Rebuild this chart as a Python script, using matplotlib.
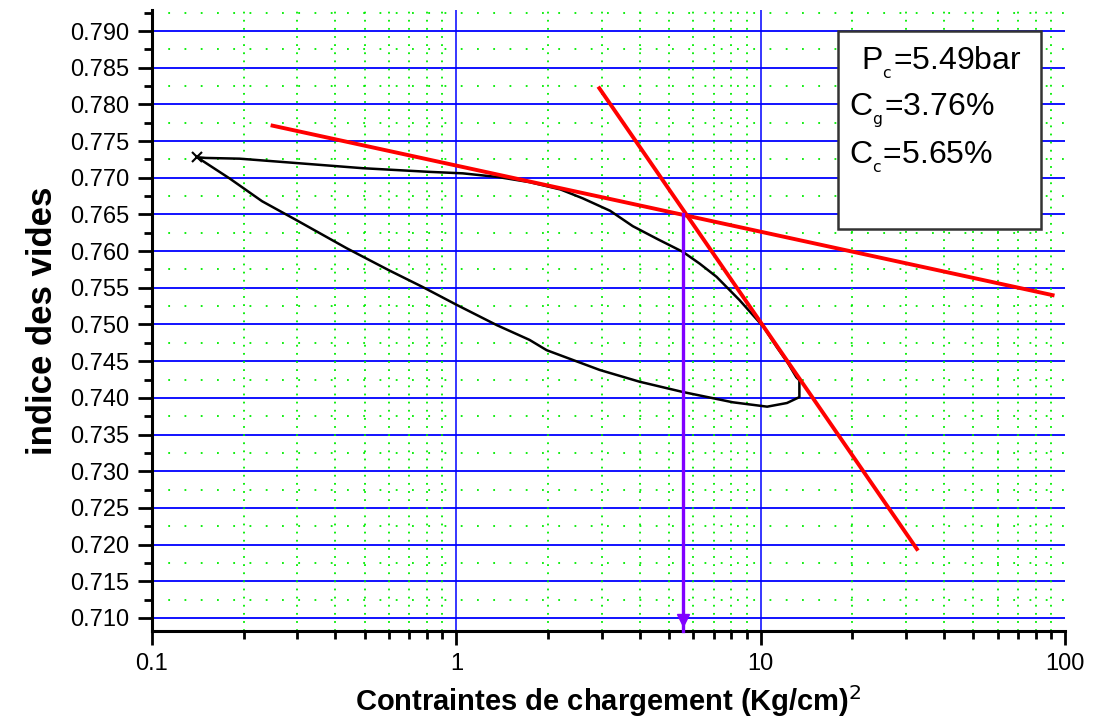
import matplotlib
matplotlib.use('Agg')
import matplotlib.pyplot as plt
import numpy as np
from matplotlib.ticker import FixedLocator, NullFormatter

plt.rcParams['font.family'] = ['Liberation Sans', 'DejaVu Sans']

# oedometer curve (loading then unloading)
stress = [0.1406, 0.15, 0.194, 0.299, 0.493, 0.818, 1.05, 1.37, 1.74, 2.20, 2.60, 3.20,
          3.80, 4.60, 5.55, 6.30, 7.16, 8.53, 10.2, 11.3, 12.3, 13.1, 13.4, 13.4, 12.2,
          10.5, 8.09, 5.55, 4.00, 2.96, 1.98, 1.74, 1.36, 1.0, 0.776, 0.600, 0.436,
          0.299, 0.230, 0.180, 0.1406]
void_ratio = [0.7728, 0.7727, 0.7726, 0.7720, 0.7713, 0.7708, 0.7706, 0.7701, 0.7694,
              0.7684, 0.7672, 0.7655, 0.7634, 0.7616, 0.7599, 0.7583, 0.7565, 0.7533,
              0.7497, 0.7469, 0.7447, 0.7428, 0.7424, 0.7401, 0.7393, 0.7388, 0.7394,
              0.7408, 0.7422, 0.7438, 0.7465, 0.7479, 0.7499, 0.7527, 0.7551, 0.7574,
              0.7604, 0.7642, 0.7668, 0.7699, 0.7728]

# tangent lines (Casagrande construction)
tan1_x = [0.249, 91.0]
tan1_y = [0.7771, 0.7540]
tan2_x = [2.95, 32.6]
tan2_y = [0.7822, 0.7194]

pc_x = 5.56
pc_y = 0.7651

ylo, yhi = 0.70823, 0.79286

fig = plt.figure(figsize=(10.98, 7.26), dpi=100)
ax = fig.add_axes([0.1384, 0.1309, 0.8316, 0.8553])
ax.set_xscale('log')
ax.set_xlim(0.1, 100)
ax.set_ylim(ylo, yhi)

# grids
maj_y = np.arange(0.710, 0.7901, 0.005)
min_y = np.arange(0.7125, 0.7926, 0.005)
for y in maj_y:
    ax.axhline(y, color='#0000ff', lw=1.3, zorder=1)
for y in min_y:
    ax.axhline(y, color='#00ee00', lw=1.3, ls=(0, (1, 8)), zorder=1)
for x in [1, 10]:
    ax.axvline(x, color='#0000ff', lw=1.1, zorder=1)
minor_x = [m * 10.0**d for d in (-1, 0, 1) for m in range(2, 10)]
for x in minor_x:
    ax.axvline(x, color='#00ee00', lw=1.3, ls=(0, (1, 3.5)), zorder=1)

ax.plot(stress, void_ratio, color='k', lw=1.8, zorder=3)
ax.plot(stress[0], void_ratio[0], marker='x', color='k', ms=7, mew=1.5, zorder=3)
ax.plot(tan1_x, tan1_y, color='#ff0000', lw=2.8, zorder=4)
ax.plot(tan2_x, tan2_y, color='#ff0000', lw=2.8, zorder=4)
ax.plot([pc_x, pc_x], [pc_y, ylo], color='#8000ff', lw=2.4, zorder=5, clip_on=False)
ax.plot(pc_x, 0.7097, marker='v', color='#8000ff', ms=9, zorder=5)

# box
ax.add_patch(plt.Rectangle((0.751, 0.647), 0.223, 0.319, transform=ax.transAxes,
                           facecolor='white', edgecolor='#333333', lw=1.8, zorder=6))
ax.text(0.776, 0.915, r'P$_{_{\rm c}}$=5.49bar', transform=ax.transAxes, fontsize=23,
        va='center', zorder=7)
ax.text(0.763, 0.838, r'C$_{_{\rm g}}$=3.76%', transform=ax.transAxes, fontsize=23,
        va='center', zorder=7)
ax.text(0.763, 0.762, r'C$_{_{\rm c}}$=5.65%', transform=ax.transAxes, fontsize=23,
        va='center', zorder=7)

# axes styling
for s in ['top', 'right']:
    ax.spines[s].set_visible(False)
for s in ['left', 'bottom']:
    ax.spines[s].set_linewidth(2.2)
ax.xaxis.set_major_locator(FixedLocator([0.1, 1, 10, 100]))
ax.xaxis.set_minor_locator(FixedLocator(minor_x))
ax.xaxis.set_minor_formatter(NullFormatter())
ax.set_xticklabels(['0.1', '1', '10', '100'])
ax.yaxis.set_major_locator(FixedLocator(maj_y))
ax.yaxis.set_minor_locator(FixedLocator(min_y))
ax.set_yticklabels(['%.3f' % v for v in maj_y])
ax.tick_params(axis='both', which='major', direction='out', length=10, width=2,
               labelsize=17, pad=6)
ax.tick_params(axis='both', which='minor', direction='out', length=6, width=2)

ax.set_xlabel(r'Contraintes de chargement (Kg/cm)$^2$', fontsize=21, fontweight='bold',
              labelpad=6)
ax.set_ylabel('indice des vides', fontsize=25, fontweight='bold', labelpad=8)

fig.savefig('out.png', dpi=100)
